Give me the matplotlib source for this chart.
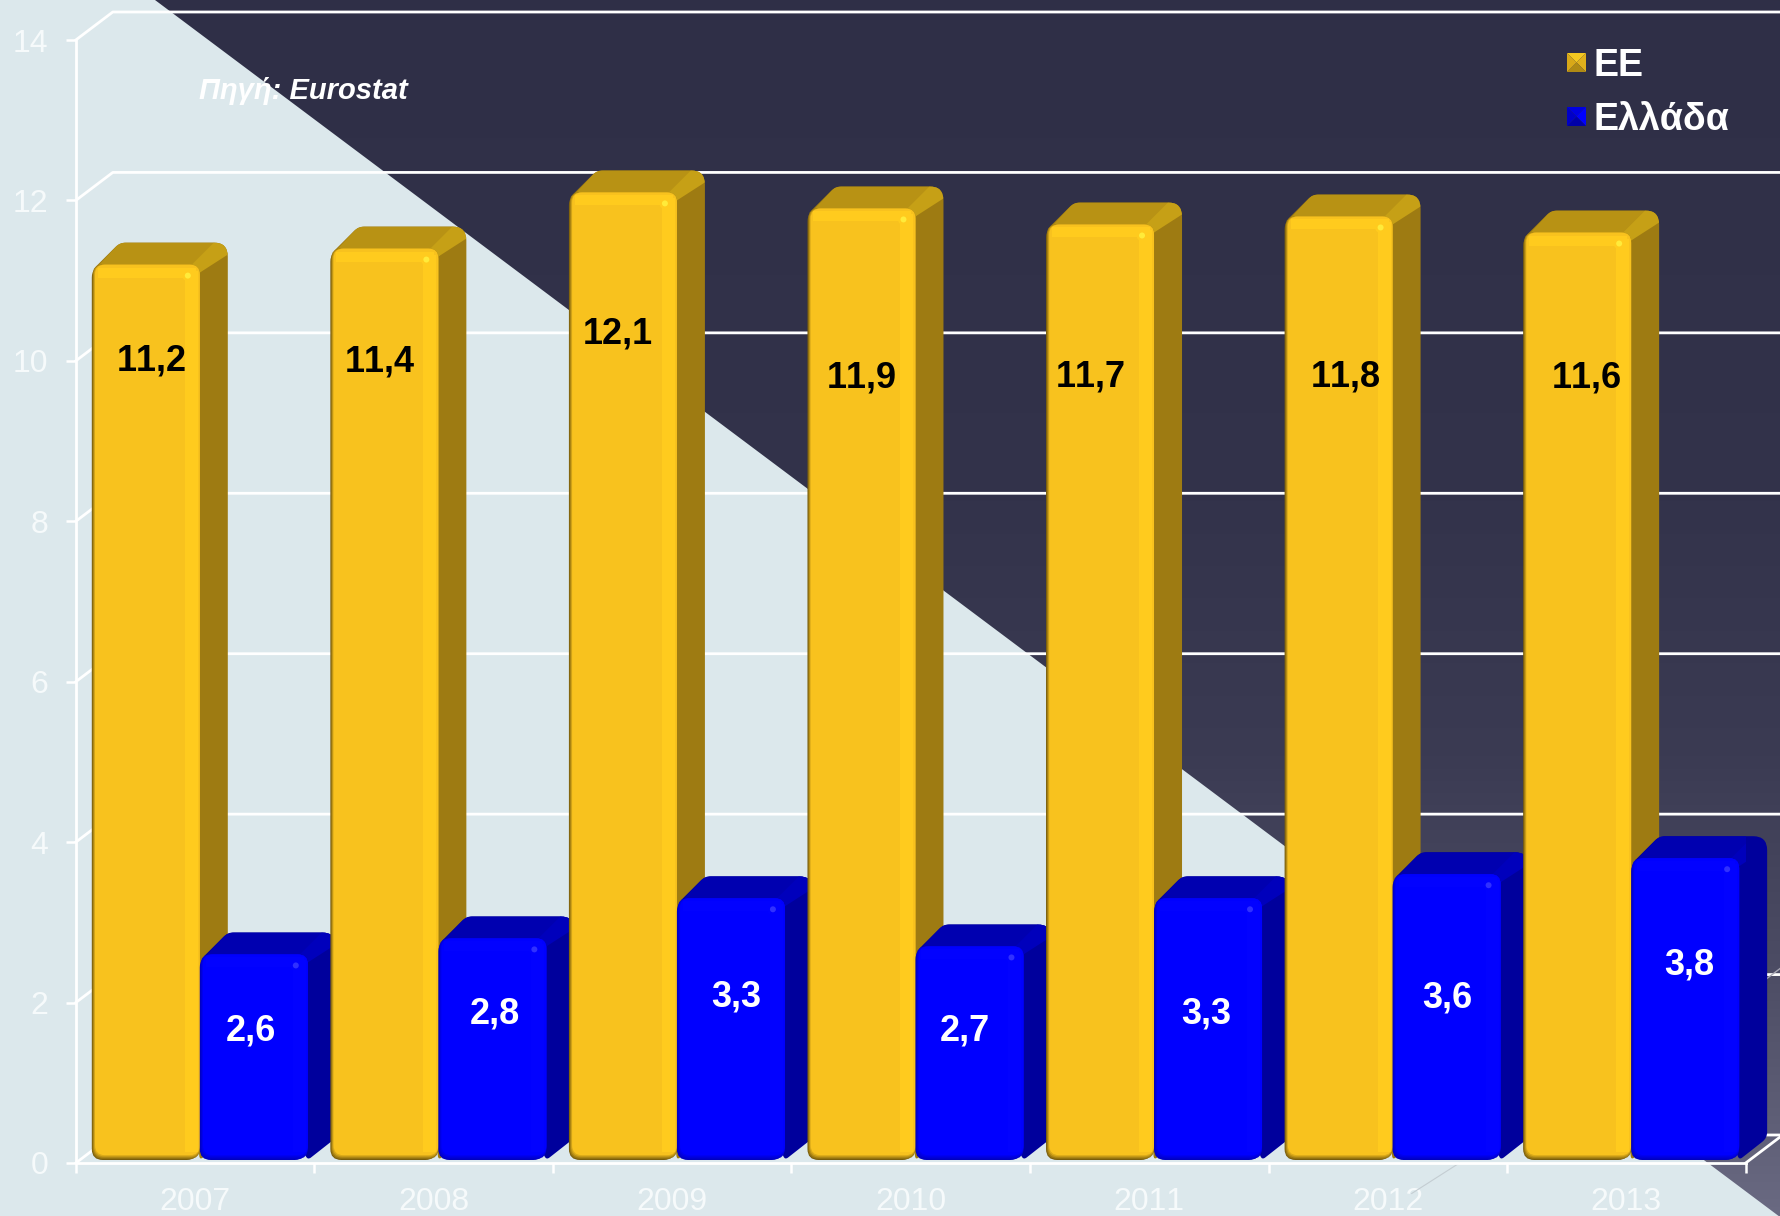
"""
EU vs Greece bars with a fake 3D look, on the diagonal split background.
"""
import numpy as np
import matplotlib
matplotlib.use("Agg")
import matplotlib.pyplot as plt
import matplotlib.colors as mcolors
from matplotlib.patches import FancyBboxPatch, PathPatch, Polygon, Rectangle, Ellipse
from matplotlib.path import Path

plt.rcParams['font.family'] = ['Liberation Sans', 'DejaVu Sans']
plt.rcParams['text.kerning_factor'] = 6

years = ['2007', '2008', '2009', '2010', '2011', '2012', '2013']
eu_values = [11.2, 11.4, 12.1, 11.9, 11.7, 11.8, 11.6]
gr_values = [2.6, 2.8, 3.3, 2.7, 3.3, 3.6, 3.8]
eu_labels = ['11,2', '11,4', '12,1', '11,9', '11,7', '11,8', '11,6']
gr_labels = ['2,6', '2,8', '3,3', '2,7', '3,3', '3,6', '3,8']
y_ticks = [0, 2, 4, 6, 8, 10, 12, 14]
legend_names = ['ΕΕ', 'Ελλάδα']
source_text = 'Πηγή: Eurostat'

# hand placed labels in the original, in pixels
eu_label_xy = [(152, 361), (380, 362), (618, 334), (862, 378), (1091, 377), (1346, 377), (1587, 378)]
gr_label_xy = [(251, 1031), (495, 1014), (736, 997), (965, 1031), (1206, 1014), (1447, 998), (1689, 965)]

W, H = 1780, 1216
AX_LEFT, AX_RIGHT = 75.8, 1745.7
AX_BOTTOM, AX_TOP = 1163, 40
PX_X = (AX_RIGHT - AX_LEFT) / len(years)
PX_Y = (AX_BOTTOM - AX_TOP) / 14

WALL_DX, WALL_DY = 37 / PX_X, 28 / PX_Y
BAR_DX, BAR_DY = 28 / PX_X, 22 / PX_Y
BAR_W = 108 / PX_X
BAR_START = 16 / PX_X
BASE = 3 / PX_Y

YELLOW = dict(front='#F8C21E', edge='#7A5E0C', bright='#FFCB1E', hot='#FFEB3A',
              side='#9E7B12', top='#B89214', corner='#C6A016')
BLUE = dict(front='#0000FF', edge='#0000C0', bright='#0202FF', hot='#3030FF',
            side='#00009C', top='#0000B0', corner='#0000BC')

LIGHT_BG = '#DCE8EC'
DARK_TOP = '#2F2F47'
DARK_BOTTOM = '#6A6A82'


def draw_background(bg):
    stops = np.array([0, 0.4, 0.62, 0.8, 1.0])
    mix = np.array([0, 0.06, 0.2, 0.5, 1.0])
    t = np.interp(np.linspace(0, 1, 512), stops, mix)
    top, bot = np.array(mcolors.to_rgb(DARK_TOP)), np.array(mcolors.to_rgb(DARK_BOTTOM))
    grad = (top[None, :] * (1 - t[:, None]) + bot[None, :] * t[:, None])[:, None, :]
    bg.imshow(grad, extent=[0, W, H, 0], aspect='auto', zorder=0)
    bg.add_patch(Polygon([(0, 0), (155, 0), (1780, 1217), (1780, H), (0, H)],
                         facecolor=LIGHT_BG, edgecolor='none', zorder=1))
    bg.set_xlim(0, W)
    bg.set_ylim(H, 0)


def rounded_shape(points, radii):
    """Closed path through points with the corners rounded, radii in pixels."""
    verts, codes = [], []
    n = len(points)
    for i in range(n):
        p = np.array(points[i])
        prev_p, next_p = np.array(points[i - 1]), np.array(points[(i + 1) % n])
        a = p + (prev_p - p) / (np.hypot(*((prev_p - p) * (PX_X, PX_Y)))) * radii[i]
        b = p + (next_p - p) / (np.hypot(*((next_p - p) * (PX_X, PX_Y)))) * radii[i]
        verts += [a, p, b]
        codes += [Path.LINETO if i else Path.MOVETO, Path.CURVE3, Path.CURVE3]
    verts.append(verts[0])
    codes.append(Path.CLOSEPOLY)
    return Path(verts, codes)


def front_box(ax, x0, x1, y0, y1, radius_px, color, z):
    r = radius_px / PX_X
    aspect = PX_X / PX_Y
    box = FancyBboxPatch((x0 + r, y0 + r * aspect), x1 - x0 - 2 * r, y1 - y0 - 2 * r * aspect,
                         boxstyle=f'round,pad={r},rounding_size={r}', mutation_aspect=aspect,
                         facecolor=color, edgecolor='none', zorder=z, clip_on=False)
    ax.add_patch(box)


def draw_bar(ax, x, value, col, z):
    x1 = x + BAR_W
    # whole silhouette in the side colour, top and corner clipped to it
    outline = [(x + 2 / PX_X, value - 4 / PX_Y), (x + BAR_DX, value + BAR_DY), (x1 + BAR_DX, value + BAR_DY),
               (x1 + BAR_DX, BASE + BAR_DY), (x1, BASE)]
    shape = PathPatch(rounded_shape(outline, [4, 6, 14, 6, 4]), facecolor=col['side'], edgecolor='none',
                      zorder=z, clip_on=False)
    ax.add_patch(shape)
    top = Polygon([(x, value - 8 / PX_Y), (x + BAR_DX, value + BAR_DY), (x1 + BAR_DX, value + BAR_DY),
                   (x1, value - 8 / PX_Y)], facecolor=col['top'], edgecolor='none', zorder=z + 0.1)
    ax.add_patch(top)
    top.set_clip_path(shape)
    corner = Polygon([(x1 - 10 / PX_X, value - 2 / PX_Y), (x1 + BAR_DX - 14 / PX_X, value + BAR_DY),
                      (x1 + BAR_DX, value + BAR_DY), (x1 + BAR_DX, value + BAR_DY - 12 / PX_Y),
                      (x1, value - 8 / PX_Y)], facecolor=col['corner'], edgecolor='none', zorder=z + 0.15)
    ax.add_patch(corner)
    corner.set_clip_path(shape)

    # front face: dark rim only on the left and bottom, soft steps inward
    edge, main = np.array(mcolors.to_rgb(col['edge'])), np.array(mcolors.to_rgb(col['front']))
    front_box(ax, x, x1 - 2 / PX_X, BASE, value - 2 / PX_Y, 11, col['edge'], z + 0.2)
    for i in range(1, 5):
        t = i / 4
        front_box(ax, x + i * 0.8 / PX_X, x1, BASE + i * 1.2 / PX_Y, value, 10,
                  tuple(edge * (1 - t) + main * t), z + 0.2 + i * 0.01)
    # highlight strips
    ax.add_patch(Rectangle((x1 - 15 / PX_X, BASE + 8 / PX_Y), 13 / PX_X, value - BASE - 14 / PX_Y,
                           facecolor=col['bright'], edgecolor='none', zorder=z + 0.3, clip_on=False))
    ax.add_patch(Rectangle((x + 6 / PX_X, value - 13 / PX_Y), BAR_W - 10 / PX_X, 10 / PX_Y,
                           facecolor=col['bright'], edgecolor='none', zorder=z + 0.3, clip_on=False))
    ax.add_patch(Ellipse((x1 - 12 / PX_X, value - 11 / PX_Y), 11 / PX_X, 11 / PX_Y,
                         facecolor=col['bright'], edgecolor='none', zorder=z + 0.34, clip_on=False))
    ax.add_patch(Ellipse((x1 - 12 / PX_X, value - 11 / PX_Y), 6 / PX_X, 6 / PX_Y,
                         facecolor=col['hot'], edgecolor='none', zorder=z + 0.35, clip_on=False))


def draw_swatch(over, x, y, size, shades):
    cx, cy = x + size / 2, y + size / 2
    corners = [(x, y), (x + size, y), (x + size, y + size), (x, y + size)]
    for i, shade in enumerate(shades):
        over.add_patch(Polygon([corners[i], corners[(i + 1) % 4], (cx, cy)], facecolor=shade, edgecolor='none'))


fig = plt.figure(figsize=(W / 100, H / 100), dpi=100)

bg = fig.add_axes((0, 0, 1, 1), zorder=0)
bg.axis('off')
draw_background(bg)

ax = fig.add_axes((AX_LEFT / W, (H - AX_BOTTOM) / H, (AX_RIGHT - AX_LEFT) / W, (AX_BOTTOM - AX_TOP) / H), zorder=1)
ax.patch.set_alpha(0)
ax.set_xlim(0, len(years))
ax.set_ylim(0, 14)
for name in ('top', 'right'):
    ax.spines[name].set_visible(False)
for name in ('left', 'bottom'):
    ax.spines[name].set_color('white')
    ax.spines[name].set_linewidth(2)

ax.set_yticks(y_ticks)
ax.set_xticks(range(len(years) + 1))
ax.set_xticklabels([])
ax.set_xticks(np.arange(len(years)) + 0.5, labels=years, minor=True)
ax.tick_params(axis='both', which='major', length=7, width=1.8, color='white', labelcolor='#F6FAFB', labelsize=23, pad=13)
ax.tick_params(axis='x', which='minor', length=0, labelcolor='#F6FAFB', labelsize=23, pad=17)

# walls and floor lines
right_end = (W - AX_LEFT) / PX_X
for v in y_ticks:
    ax.plot([0, WALL_DX, right_end], [v, v + WALL_DY, v + WALL_DY], color='white', lw=2, zorder=2, clip_on=False)
ax.plot([len(years), right_end], [0, 28 / PX_Y * (W - AX_RIGHT) / 37], color='white', lw=2, zorder=2, clip_on=False)
ax.plot([len(years), right_end], [2.1, 2.1 + 28 / PX_Y * (W - AX_RIGHT) / 37], color='#A8A8B4', lw=1, zorder=2, clip_on=False)
ax.plot([5.6, 5.8], [-0.38, 0], color='#C4CDD2', lw=0.8, zorder=2, clip_on=False)

# later bars sit in front of the earlier ones
for i in range(len(years)):
    draw_bar(ax, i + BAR_START, eu_values[i], YELLOW, 3 + i * 2)
    draw_bar(ax, i + BAR_START + BAR_W, gr_values[i], BLUE, 4 + i * 2)

over = fig.add_axes((0, 0, 1, 1), zorder=2)
over.axis('off')
over.set_xlim(0, W)
over.set_ylim(H, 0)

for (lx, ly), text in zip(eu_label_xy, eu_labels):
    over.text(lx, ly, text, color='black', fontsize=26, fontweight='bold', ha='center', va='center')
for (lx, ly), text in zip(gr_label_xy, gr_labels):
    over.text(lx, ly, text, color='white', fontsize=26, fontweight='bold', ha='center', va='center')

over.text(199, 91, source_text, color='white', fontsize=21, fontweight='bold', fontstyle='italic', ha='left', va='center')

draw_swatch(over, 1567, 53, 19, ['#F4C820', '#E0B01C', '#B08A14', '#D8A818'])
draw_swatch(over, 1567, 107, 19, ['#0000E0', '#0000FF', '#0000A8', '#0000C8'])
over.text(1594, 66, legend_names[0], color='white', fontsize=27, fontweight='bold', ha='left', va='center')
over.text(1594, 120, legend_names[1], color='white', fontsize=27, fontweight='bold', ha='left', va='center')

fig.savefig('out.png', dpi=100)
plt.close(fig)
